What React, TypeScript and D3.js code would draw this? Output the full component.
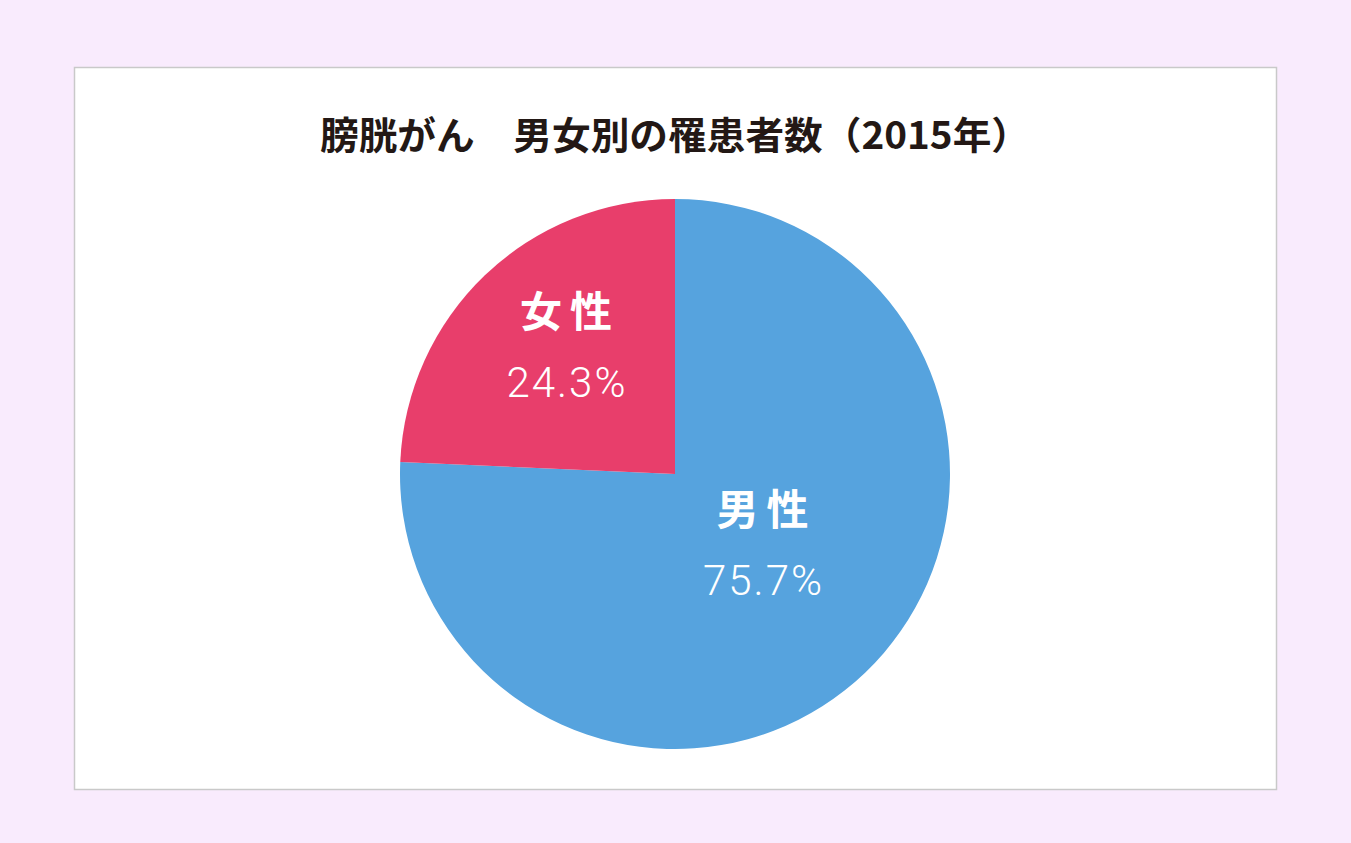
import * as d3 from 'd3'

const WIDTH = 1351
const HEIGHT = 843
const PANEL = {x: 74, y: 67, w: 1202, h: 722}
const CENTER = {x: 675, y: 474}
const RADIUS = 275

const title = '膀胱がん　男女別の罹患者数（2015年）'
const categories = ['男性', '女性']
const shares = [75.7, 24.3]
const colors = ['#56a3de', '#e83e6b']
// ラベルを置く半径とずらし量（スライスごと）
const labelRadius = [115, 165]
const labelShift = [
  [8, -15],
  [5, -10],
]

type Slice = {name: string; value: number; color: string}

export default function App() {
  const data: Slice[] = categories.map((name, i) => ({name, value: shares[i], color: colors[i]}))
  const pie = d3
    .pie<Slice>()
    .sort(null)
    .value(d => d.value)
  const arcs = pie(data)
  const arc = d3.arc<d3.PieArcDatum<Slice>>().innerRadius(0).outerRadius(RADIUS)

  return (
    <svg
      width={WIDTH}
      height={HEIGHT}
      style={{position: 'absolute', left: 0, top: 0, display: 'block'}}>
      <rect x={0} y={0} width={WIDTH} height={HEIGHT} fill="#f9ebfd" />
      <rect
        x={PANEL.x + 0.5}
        y={PANEL.y + 0.5}
        width={PANEL.w}
        height={PANEL.h}
        fill="#ffffff"
        stroke="#c9c9c9"
        strokeWidth={1.5}
      />
      <text
        x={CENTER.x}
        y={132}
        textAnchor="middle"
        dominantBaseline="central"
        fontFamily="'Noto Sans CJK JP', sans-serif"
        fontWeight={700}
        fontSize={38}
        textLength={710}
        lengthAdjust="spacingAndGlyphs"
        fill="#231815">
        {title}
      </text>
      <g transform={`translate(${CENTER.x},${CENTER.y})`}>
        {arcs.map((a, i) => (
          <path key={i} d={arc(a) || ''} fill={a.data.color} />
        ))}
        {arcs.map((a, i) => {
          const r = labelRadius[i]
          const [cx0, cy0] = d3.arc<d3.PieArcDatum<Slice>>().innerRadius(r).outerRadius(r).centroid(a)
          const cx = cx0 + labelShift[i][0]
          const cy = cy0 + labelShift[i][1]
          return (
            <g key={i} fill="#ffffff" textAnchor="middle">
              <text
                x={cx + 4}
                y={cy - 36}
                dominantBaseline="central"
                fontFamily="'Noto Sans CJK JP', sans-serif"
                fontWeight={700}
                fontSize={42}
                letterSpacing={8}>
                {a.data.name}
              </text>
              <text
                x={cx + 1}
                y={cy + 38}
                dominantBaseline="central"
                fontFamily="Roboto, 'Noto Sans CJK JP', sans-serif"
                fontWeight={300}
                fontSize={42}
                letterSpacing={2}>
                {a.data.value.toFixed(1)}%
              </text>
            </g>
          )
        })}
      </g>
    </svg>
  )
}
